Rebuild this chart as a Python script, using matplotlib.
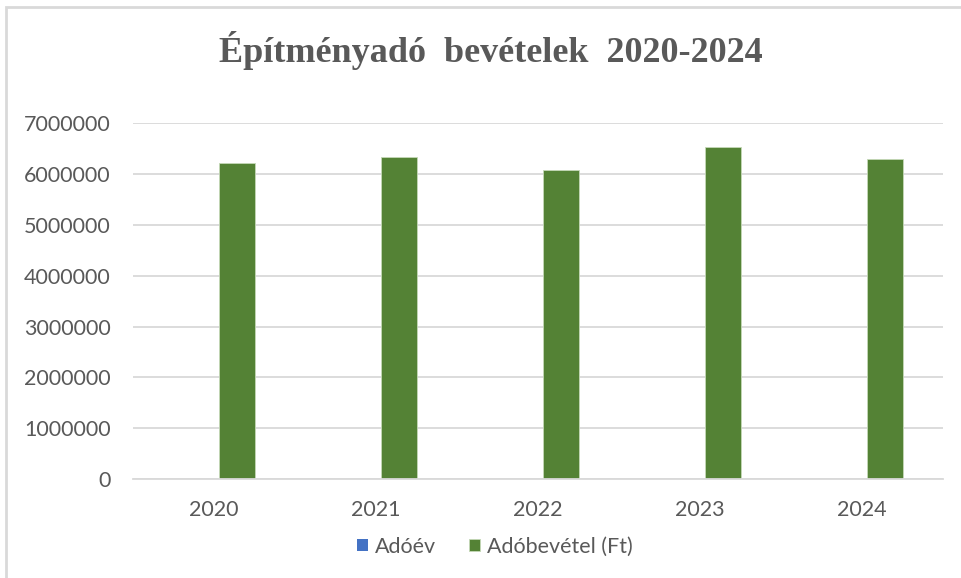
import numpy as np
import matplotlib.pyplot as plt
from matplotlib.patches import Rectangle

# data
years = ["2020", "2021", "2022", "2023", "2024"]
adoev = [2020, 2021, 2022, 2023, 2024]
adobevetel = [6213000, 6337000, 6087000, 6540000, 6292000]
yticks = [0, 1000000, 2000000, 3000000, 4000000, 5000000, 6000000, 7000000]

txt = "#595959"
grid_c = "#d9d9d9"
blue = "#4472c4"
green = "#548235"
font = ["Lato", "DejaVu Sans"]

fig = plt.figure(figsize=(9.62, 5.78), dpi=100)
W, H = 962, 578
ax = fig.add_axes([133 / W, 1 - 479 / H, (943 - 133) / W, (479 - 123.3) / H])

x = np.arange(len(years))
bw = 0.22
off = 0.141
ax.bar(x - off, adoev, width=bw, color=blue, label="Adóév")
ax.bar(x + off, adobevetel, width=bw, color=green, edgecolor="#c5d9b8",
       linewidth=0.6, label="Adóbevétel (Ft)")

ax.set_xlim(-0.5, len(years) - 0.5)
ax.set_ylim(0, 7000000)
ax.set_yticks(yticks)
ax.set_yticklabels([str(v) for v in yticks])
ax.set_xticks(x)
ax.set_xticklabels(years)
ax.yaxis.grid(True, color=grid_c, linewidth=1.3)
ax.set_axisbelow(True)
for s in ["top", "right", "left"]:
    ax.spines[s].set_visible(False)
ax.spines["bottom"].set_color(grid_c)
ax.spines["bottom"].set_linewidth(1.3)
ax.tick_params(length=0, colors=txt, labelsize=15.5)
ax.tick_params(axis="y", pad=16)
ax.tick_params(axis="x", pad=15)
for lab in ax.get_xticklabels() + ax.get_yticklabels():
    lab.set_family(font)

fig.text(491 / W, 1 - 50 / H, "Építményadó  bevételek  2020-2024",
         ha="center", va="center", fontsize=26, fontweight="bold",
         family="Liberation Serif", color=txt)

leg = fig.legend(loc="center", bbox_to_anchor=(495 / W, 1 - 547 / H),
                 ncol=2, frameon=False, handlelength=0.5, handleheight=0.5,
                 handletextpad=0.35, columnspacing=1.5,
                 prop={"family": font, "size": 15.5})
for t in leg.get_texts():
    t.set_color(txt)

# chart border
fig.patches.append(Rectangle((6 / W, -0.1), 1.2, 1 - 7 / H + 0.1,
                             transform=fig.transFigure, fill=False,
                             edgecolor=grid_c, linewidth=2))

fig.savefig("out.png", dpi=100)
